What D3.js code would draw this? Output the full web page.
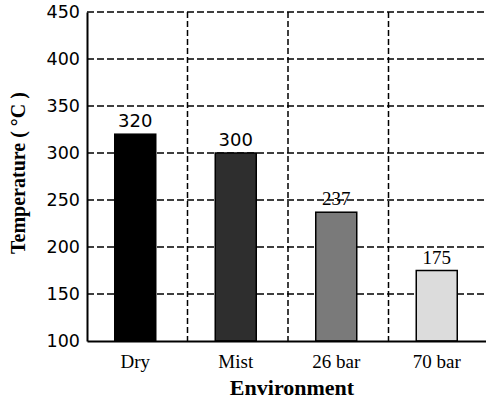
<!DOCTYPE html>
<html>
<head>
<meta charset="utf-8">
<script src="https://cdn.jsdelivr.net/npm/d3@7"></script>
<style>
body { margin: 0; background: #fff; }
svg { display: block; }
</style>
</head>
<body>
<svg width="486" height="403"></svg>
<script>
var categories = ["Dry", "Mist", "26 bar", "70 bar"];
var temps = [320, 300, 237, 175];
var fills = ["#000000", "#2e2e2e", "#7a7a7a", "#dcdcdc"];
var yTicks = [100, 150, 200, 250, 300, 350, 400, 450];

var svg = d3.select("svg"),
	plotL = 87, plotR = 489, plotT = 12, plotB = 341;

var x = d3.scaleBand()
	.domain(categories)
	.range([plotL, plotR])
	.paddingInner(0)
	.paddingOuter(0);

var y = d3.scaleLinear()
	.domain([100, 450])
	.range([plotB, plotT]);

// horizontal dashed grid
svg.append("g")
	.selectAll("line")
	.data(yTicks.slice(1))
	.enter().append("line")
	.attr("x1", plotL)
	.attr("x2", plotR)
	.attr("y1", function (d) { return y(d); })
	.attr("y2", function (d) { return y(d); })
	.attr("stroke", "#000")
	.attr("stroke-width", 1.5)
	.attr("stroke-dasharray", "7,3");

// vertical dashed grid at band boundaries
svg.append("g")
	.selectAll("line")
	.data(categories.slice(1))
	.enter().append("line")
	.attr("x1", function (d) { return x(d); })
	.attr("x2", function (d) { return x(d); })
	.attr("y1", plotT)
	.attr("y2", plotB)
	.attr("stroke", "#000")
	.attr("stroke-width", 1.5)
	.attr("stroke-dasharray", "6,3");

var barW = 41;

svg.append("g")
	.selectAll("rect")
	.data(temps)
	.enter().append("rect")
	.attr("x", function (d, i) { return x(categories[i]) + x.bandwidth() / 2 - barW / 2 - 2; })
	.attr("y", function (d) { return y(d); })
	.attr("width", barW)
	.attr("height", function (d) { return plotB - y(d); })
	.attr("fill", function (d, i) { return fills[i]; })
	.attr("stroke", "#000")
	.attr("stroke-width", 1.5);

svg.append("g")
	.selectAll("text")
	.data(temps)
	.enter().append("text")
	.attr("x", function (d, i) { return x(categories[i]) + x.bandwidth() / 2 - 2; })
	.attr("y", function (d) { return y(d) - 7; })
	.attr("text-anchor", "middle")
	.style("font-family", function (d, i) { return i < 2 ? "DejaVu Sans" : "Liberation Serif"; })
	.style("font-size", function (d, i) { return i < 2 ? "18px" : "19px"; })
	.text(function (d) { return d; });

// y axis
var yAxis = svg.append("g")
	.attr("transform", "translate(" + plotL + ",0)")
	.call(d3.axisLeft(y).tickValues(yTicks).tickSize(0).tickPadding(7));
yAxis.select(".domain").attr("stroke-width", 2);
yAxis.selectAll("text")
	.style("font-family", "DejaVu Sans")
	.style("font-size", "17.5px")
	.attr("fill", "#000");

// x axis
var xAxis = svg.append("g")
	.attr("transform", "translate(0," + plotB + ")")
	.call(d3.axisBottom(x).tickSize(0).tickPadding(14));
xAxis.select(".domain").attr("stroke-width", 2);
xAxis.selectAll("text")
	.style("font-family", "Liberation Serif")
	.style("font-size", "19px")
	.attr("fill", "#000")
	.attr("transform", "translate(-2,0)");

svg.append("text")
	.attr("x", 292)
	.attr("y", 395)
	.attr("text-anchor", "middle")
	.style("font-family", "Liberation Serif")
	.style("font-weight", "bold")
	.style("font-size", "22px")
	.text("Environment");

svg.append("text")
	.attr("transform", "translate(25,173) rotate(-90)")
	.attr("text-anchor", "middle")
	.style("font-family", "Liberation Serif")
	.style("font-weight", "bold")
	.style("font-size", "20px")
	.text("Temperature ( °C )");
</script>
</body>
</html>
